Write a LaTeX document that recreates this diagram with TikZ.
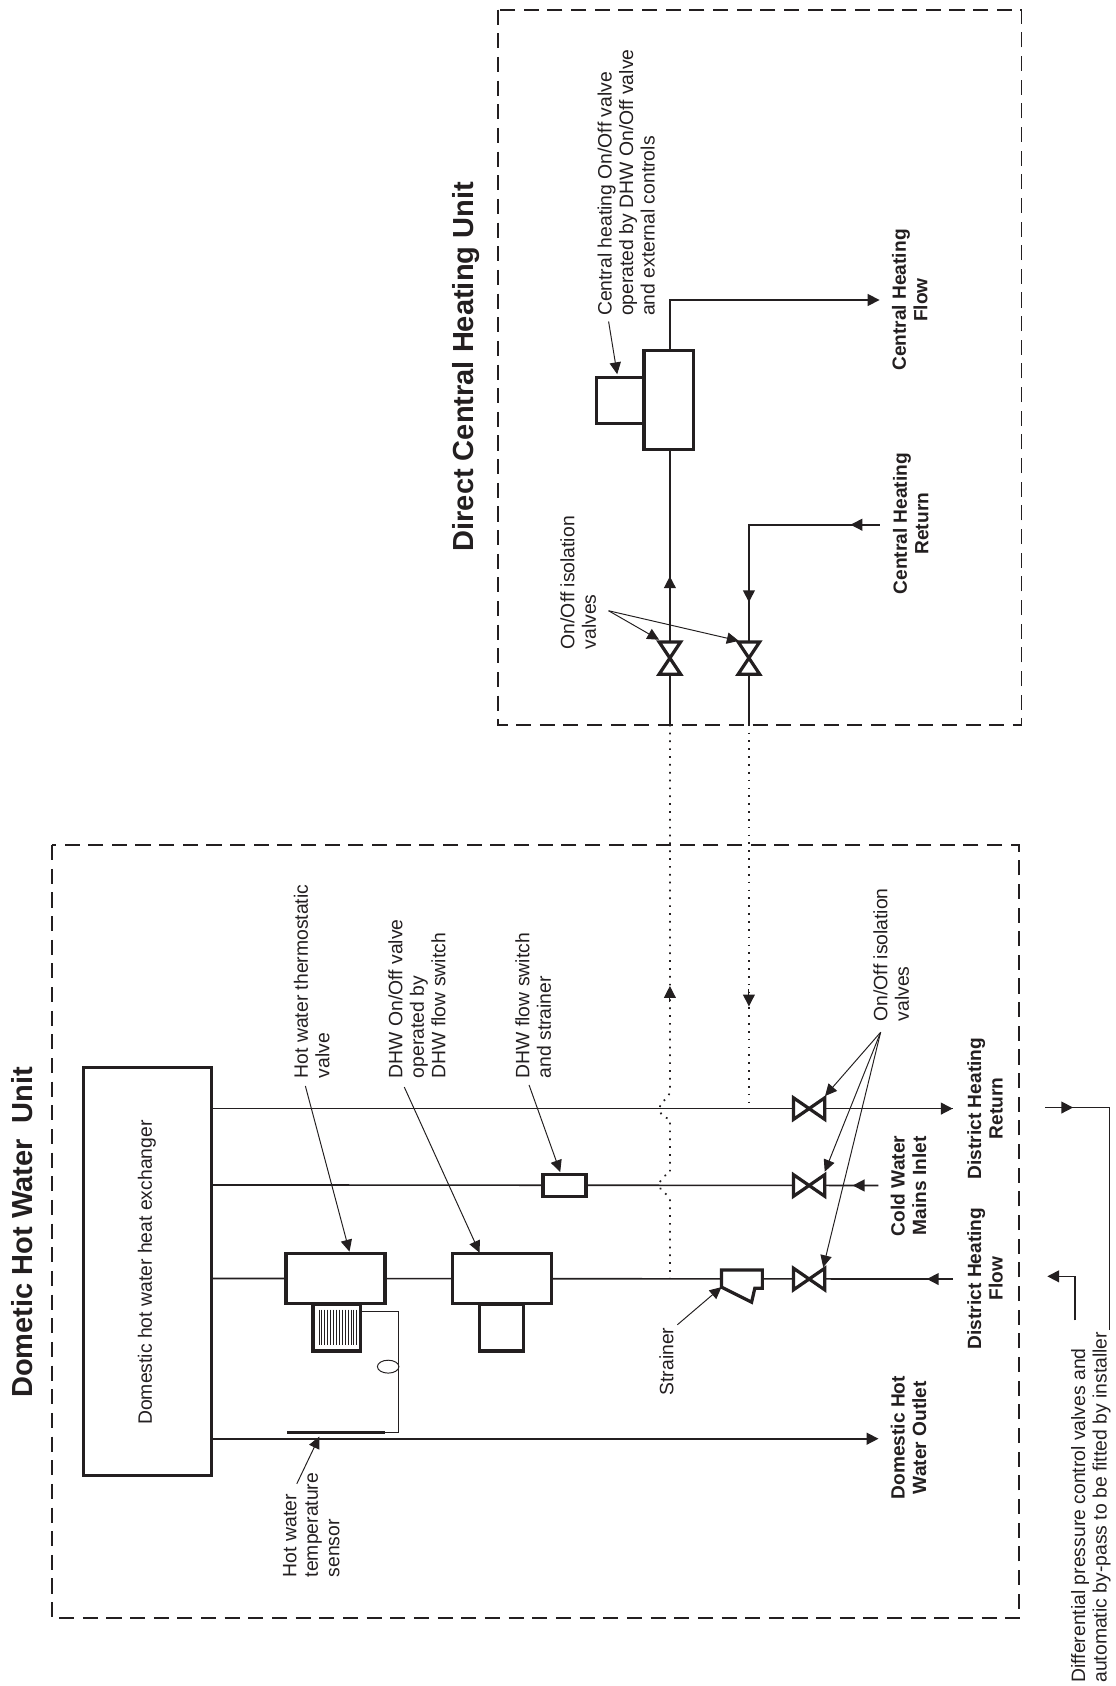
\documentclass[tikz,border=0pt]{standalone}
\usepackage{fontspec}
\setmainfont{Liberation Sans}
\usetikzlibrary{arrows.meta,shapes.geometric}
\tikzset{
  pipe/.style={line width=1.5pt,draw=ink},
  thickbox/.style={draw=ink,line width=3pt,fill=white,rectangle,inner sep=0pt,outer sep=0pt},
  leader/.style={draw=ink,line width=0.9pt,-{Triangle[length=11pt,width=10.5pt]}},
  flow/.style={draw=ink,line width=1.5pt,-{Triangle[length=11pt,width=11pt]}},
  unitbox/.style={draw=ink,line width=1.8pt,dash pattern=on 14pt off 8pt},
  dotline/.style={draw=ink,line width=1.6pt,dash pattern=on 1.6pt off 5.7pt},
  lab/.style={rotate=90,anchor=north west,align=left,inner sep=0pt,font=\fontsize{18}{20}\selectfont,text=ink},
  blab/.style={rotate=90,anchor=center,align=center,inner sep=0pt,font=\bfseries\fontsize{17.8}{20}\selectfont,text=ink},
  ttl/.style={rotate=90,anchor=center,inner sep=0pt,font=\bfseries\fontsize{27}{32}\selectfont,text=ink},
  bowtie/.style={draw=ink,line width=3pt,fill=white,line join=miter}
}
\definecolor{ink}{HTML}{231F20}
\begin{document}
\begin{tikzpicture}[x=1pt,y=-1pt]
\useasboundingbox (0,0) rectangle (1037,1568);
\fill[white] (0,0) rectangle (1037,1568);
% unit boxes
\draw[unitbox] (48,786) rectangle (948,1505);
\draw[unitbox] (463,9) rectangle (950,674);
% titles
\node[ttl] (t1) at (21,1146) {Dometic Hot Water\ \ Unit};
\node[ttl] (t2) at (433.5,341) {Direct Central Heating Unit};
% named ends
\coordinate (drRet) at (886,1031);
\coordinate (coldEnd) at (817,1102.5);
\coordinate (dhFlowEnd) at (886,1189.5);
\coordinate (dhwEnd) at (817,1338);
% main components
\node[thickbox,minimum width=119pt,minimum height=379pt] (hx) at (137.5,1182.5) {};
\node[rotate=90,inner sep=0pt,font=\fontsize{18}{20}\selectfont,text=ink] (hxl) at (136.5,1183.5) {Domestic hot water heat exchanger};
% pipes
\draw[pipe] (197,1031) -- (drRet);
\draw[pipe] (197,1102) -- (coldEnd);
\draw[pipe] (197,1189) -- (dhFlowEnd);
\draw[flow] (197,1338) -- (dhwEnd);
\draw[flow] (752,1031) -- (drRet);
\draw[flow] (coldEnd) -- (793,1102.5);
\draw[flow] (dhFlowEnd) -- (862,1189.5);
% capillary and sensor
\draw[pipe,line width=1pt] (358,1332) -- (371,1332) -- (371,1220) -- (335,1220);
\draw[draw=ink,line width=0.9pt] (361,1271) ellipse [x radius=10,y radius=6];
\draw[draw=ink,line width=3pt] (267,1332) -- (358,1332);
% thermostatic valve
\node[thickbox,minimum width=92pt,minimum height=47pt] (tv) at (312,1189) {};
\node[thickbox,minimum width=44pt,minimum height=43pt] (tvh) at (313,1235) {};
\foreach \i in {0,...,13} \draw[ink,line width=0.45pt] (296.5+2.7*\i,1218) -- (296.5+2.7*\i,1251);
% DHW on/off valve
\node[thickbox,minimum width=92pt,minimum height=47pt] (dv) at (467,1189) {};
\node[thickbox,minimum width=41pt,minimum height=43pt] (dva) at (466.5,1235) {};
% flow switch
\node[thickbox,minimum width=40pt,minimum height=20pt] (fs) at (525,1102.5) {};
% strainer
\draw[bowtie] (671,1181) -- (709,1181) -- (709,1198) -- (702,1198) -- (699,1211) -- (671,1197) -- cycle;
% valves lower
\foreach \cy/\nm in {1031/va,1102.5/vb,1189.5/vc}{
  \draw[bowtie] (738,\cy-10) -- (767,\cy+10) -- (767,\cy-10) -- (738,\cy+10) -- cycle;
  \coordinate (\nm) at (752,\cy);
}
% dotted
\coordinate (p1) at (623,674);
\coordinate (p2) at (696.5,674);
\draw[dotline] (p1) -- (623,1016) -- (620.6,1021.5) -- (615,1025) -- (613,1032) -- (616.3,1038.5) -- (623,1040.7) -- (623,1091.3) -- (617,1094) -- (613,1100.4) -- (614.7,1107) -- (620,1111) -- (623,1115) -- (623,1189);
\draw[dotline] (p2) -- (696.5,1031);
\draw[draw=ink,-{Triangle[length=11pt,width=11pt]},line width=1pt] (623,932) -- (623,917);
\draw[draw=ink,-{Triangle[length=11pt,width=11pt]},line width=1pt] (696.5,920) -- (696.5,936);
% DCH components
\node[thickbox,minimum width=46pt,minimum height=92pt] (cv) at (622,372) {};
\node[thickbox,minimum width=44pt,minimum height=43pt] (ca) at (577,372.5) {};
\draw[flow] (623,326) -- (623,279) -- (818,279);
\draw[pipe] (623,418) -- (p1);
\draw[flow] (623,560) -- (623,536);
\draw[pipe] (818,488) -- (696.5,488) -- (p2);
\draw[flow] (818,488) -- (791,488);
\draw[flow] (696.5,535) -- (696.5,560);
\foreach \cx/\nm in {623/vd,696.5/ve}{
  \draw[bowtie] (\cx-10,597) -- (\cx+10,627) -- (\cx-10,627) -- (\cx+10,597) -- cycle;
  \coordinate (\nm) at (\cx,612);
}
% leaders
\draw[leader] (284,1010) -- (325,1164);
\draw[leader] (376,1011) -- (446,1165);
\draw[leader] (492,1009) -- (521,1090);
\draw[leader] (276,1380) -- (297,1336);
\draw[leader] (630,1232) -- (671,1197);
\draw[leader] (819,960) -- (767.3,1019.3);
\draw[leader] (819,960) -- (767,1089.7);
\draw[leader] (819,960) -- (765.6,1178.5);
\draw[leader] (566,568) -- (613,595);
\draw[leader] (566,568) -- (687,596);
\draw[leader] (566,299) -- (574,348);
% bypass
\draw[pipe,line width=1.1pt] (972,1030) -- (1032,1030) -- (1032,1237);
\draw[flow] (972,1030) -- (998,1030);
\draw[flow] (1000,1228) -- (1000,1187) -- (974,1187);
% labels
\node[lab] (l1) at (273,1003) {Hot water thermostatic\\valve};
\node[lab] (l2) at (361,1003) {DHW On/Off valve\\operated by\\DHW flow switch};
\node[lab] (l3) at (479,1003) {DHW flow switch\\and strainer};
\node[lab] (l4) at (263,1467) {Hot water\\temperature\\sensor};
\node[lab] (l5) at (613,1298) {Strainer};
\node[lab] (l6) at (812,950) {On/Off isolation\\valves};
\node[lab] (l7) at (521,604) {On/Off isolation\\valves};
\node[lab] (l8) at (555.5,294) {Central heating On/Off valve\\operated by DHW On/Off valve\\and external controls};
\node[lab] (l9) at (996,1565) {Differential pressure control valves and\\automatic by-pass to be fitted by installer};
\node[blab] (b1) at (845,1103) {Cold Water\\Mains Inlet};
\node[blab] (b2) at (916,1031) {District Heating\\Return};
\node[blab] (b3) at (916,1189) {District Heating\\Flow};
\node[blab] (b4) at (845,1337) {Domestic Hot\\Water Outlet};
\node[blab] (b5) at (846,279) {Central Heating\\Flow};
\node[blab] (b6) at (847,487) {Central Heating\\Return};
\end{tikzpicture}
\end{document}
